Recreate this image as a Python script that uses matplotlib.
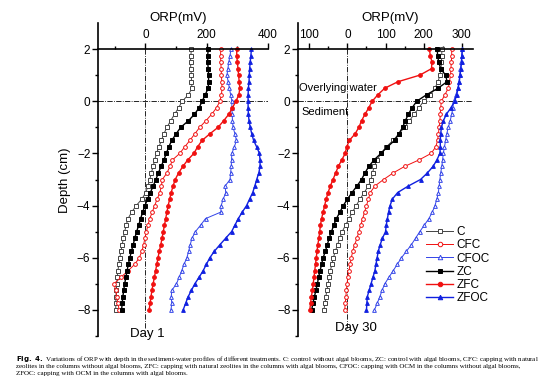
import matplotlib
matplotlib.use('Agg')
import matplotlib.pyplot as plt
import numpy as np

plt.rcParams['font.family'] = ['Liberation Sans', 'DejaVu Sans']

# depth of each sampling point (cm), 2 cm above interface down to -8 cm
depth = [2.0, 1.75, 1.5, 1.25, 1.0, 0.75, 0.5, 0.25, 0.0, -0.25, -0.5, -0.75, -1.0,
         -1.25, -1.5, -1.75, -2.0, -2.25, -2.5, -2.75, -3.0, -3.25, -3.5, -3.75, -4.0,
         -4.25, -4.5, -4.75, -5.0, -5.25, -5.5, -5.75, -6.0, -6.25, -6.5, -6.75, -7.0,
         -7.25, -7.5, -7.75, -8.0]

# Day 1 ORP (mV)
d1_C = [150, 148, 147, 148, 150, 150, 152, 140, 120, 108, 95, 82, 70, 60, 52, 44, 36,
        30, 25, 19, 14, 8, 1, -12, -30, -45, -57, -63, -68, -72, -76, -80, -84, -87,
        -90, -92, -94, -95, -96, -97, -97]
d1_CFC = [246, 245, 246, 247, 248, 249, 250, 248, 243, 232, 216, 197, 177, 161, 145,
          128, 112, 88, 80, 70, 55, 52, 47, 38, 30, 22, 14, 8, 3, -2, -6, -12, -20,
          -35, -57, -80, -103, -97, -94, -90, -86]
d1_CFOC = [279, 276, 272, 269, 266, 270, 274, 278, 282, 282, 283, 284, 286, 292, 297,
           290, 282, 281, 280, 278, 276, 260, 262, 254, 247, 246, 196, 180, 163, 152,
           146, 141, 135, 126, 118, 110, 101, 86, 84, 86, 83]
d1_ZC = [205, 203, 203, 205, 206, 206, 205, 195, 185, 175, 160, 140, 115, 100, 86, 76,
         68, 60, 51, 42, 34, 25, 16, 7, -2, -9, -16, -22, -29, -35, -40, -46, -51, -56,
         -60, -64, -68, -71, -74, -76, -78]
d1_ZFC = [298, 298, 300, 302, 304, 306, 308, 305, 295, 284, 272, 255, 237, 210, 185,
          170, 158, 138, 122, 108, 97, 90, 84, 79, 74, 70, 66, 62, 58, 54, 50, 45, 41,
          37, 33, 29, 25, 21, 18, 15, 12]
d1_ZFOC = [346, 344, 342, 340, 339, 338, 336, 335, 335, 335, 336, 338, 342, 347, 353,
           363, 372, 374, 374, 370, 363, 357, 350, 340, 330, 316, 303, 292, 281, 262,
           243, 225, 210, 199, 188, 175, 161, 150, 139, 131, 123]

# Day 30 ORP (mV)
d30_C = [248, 248, 247, 246, 243, 238, 230, 218, 200, 188, 175, 163, 150, 135, 120,
         102, 88, 78, 70, 66, 62, 55, 44, 33, 23, 13, 4, -5, -14, -20, -26, -32, -37,
         -41, -45, -48, -51, -54, -57, -59, -62]
d30_CFC = [274, 274, 273, 272, 271, 268, 265, 256, 247, 245, 244, 243, 241, 239, 237,
           232, 220, 188, 150, 120, 95, 72, 60, 55, 50, 45, 40, 35, 30, 25, 19, 14, 10,
           7, 4, 1, -1, -3, -4, -6, -7]
d30_CFOC = [302, 300, 299, 297, 295, 293, 290, 285, 279, 277, 274, 270, 265, 261, 258,
            255, 252, 250, 248, 245, 243, 241, 239, 235, 230, 223, 214, 202, 190, 179,
            168, 155, 142, 131, 120, 109, 98, 91, 85, 78, 71]
d30_ZC = [236, 237, 240, 245, 258, 262, 238, 208, 182, 170, 160, 152, 145, 135, 124,
          105, 88, 70, 56, 46, 37, 25, 12, 0, -11, -20, -29, -36, -42, -48, -53, -58,
          -64, -68, -72, -76, -79, -83, -87, -91, -94]
d30_ZFC = [215, 218, 222, 221, 190, 133, 98, 80, 65, 56, 46, 37, 30, 20, 5, -2, -6,
           -15, -24, -31, -38, -45, -51, -56, -60, -64, -68, -71, -73, -75, -78, -80,
           -82, -84, -86, -88, -90, -92, -95, -97, -99]
d30_ZFOC = [302, 301, 300, 298, 296, 294, 291, 287, 282, 272, 260, 252, 247, 245, 244,
            244, 243, 235, 225, 210, 192, 160, 132, 118, 112, 108, 105, 102, 100, 92, 86,
            81, 78, 75, 72, 67, 62, 57, 52, 51, 50]

labels = ['C', 'CFC', 'CFOC', 'ZC', 'ZFC', 'ZFOC']
day1_ticks = [0, 200, 400]
day30_ticks = [-100, 0, 100, 200, 300]
day30_ticklabels = ['100', '0', '100', '200', '300']  # minus sign is hidden under the axis in the original
caption = [
    r"$\mathbf{Fig.\ 4.}$ Variations of ORP with depth in the sediment-water profiles of different treatments. "
    "C: control without algal blooms, ZC: control with algal blooms, CFC: capping with natural",
    "zeolites in the columns without algal blooms, ZFC: capping with natural zeolites in the columns "
    "with algal blooms, CFOC: capping with OCM in the columns without algal blooms,",
    "ZFOC: capping with OCM in the columns with algal blooms.",
]

RED = '#f01010'
BLUE = '#1020e0'
styles = {
    'C':    dict(color='#444444', marker='s', mfc='white', lw=0.7),
    'CFC':  dict(color=RED, marker='o', mfc='white', lw=0.7),
    'CFOC': dict(color='#3344e8', marker='^', mfc='white', lw=0.7),
    'ZC':   dict(color='black', marker='s', mfc='black', lw=1.0),
    'ZFC':  dict(color=RED, marker='o', mfc=RED, lw=1.0),
    'ZFOC': dict(color=BLUE, marker='^', mfc=BLUE, lw=1.0),
}


def setup_axis(ax, xlim, major, minor):
    ax.set_xlim(*xlim)
    ax.set_ylim(-9, 3)
    ax.spines['right'].set_visible(False)
    ax.spines['bottom'].set_visible(False)
    ax.spines['top'].set_position(('data', 2))
    ax.spines['top'].set_linewidth(1.2)
    ax.spines['left'].set_linewidth(1.2)
    ax.xaxis.tick_top()
    ax.set_xticks(major)
    ax.set_xticks(minor, minor=True)
    ax.set_yticks([-8, -6, -4, -2, 0, 2])
    ax.set_yticks([-9, -7, -5, -3, -1, 1], minor=True)
    ax.tick_params(which='major', direction='out', length=4, width=1, labelsize=8.5, pad=1.5)
    ax.tick_params(which='minor', direction='out', length=2.5, width=1)
    ax.axhline(0, color='black', ls='-.', lw=0.6)
    ax.vlines(0, -8.7, 2, color='black', linestyles='-.', lw=0.6)
    ax.patch.set_alpha(0)


fig = plt.figure(figsize=(5.54, 3.86), dpi=100)
ax1 = fig.add_axes([98 / 554, 1 - 336 / 386, 170 / 554, 313 / 386])
ax2 = fig.add_axes([298 / 554, 1 - 336 / 386, 175 / 554, 313 / 386])

setup_axis(ax1, (-155, 400), day1_ticks, [-100, 100, 300])
setup_axis(ax2, (-130, 330), day30_ticks, [-50, 50, 150, 250])
ax2.set_xticklabels(day30_ticklabels)

day1 = [d1_C, d1_CFC, d1_CFOC, d1_ZC, d1_ZFC, d1_ZFOC]
day30 = [d30_C, d30_CFC, d30_CFOC, d30_ZC, d30_ZFC, d30_ZFOC]
for name, v1, v30 in zip(labels, day1, day30):
    st = styles[name]
    kw = dict(color=st['color'], marker=st['marker'], mfc=st['mfc'], mec=st['color'],
              ms=2.7, mew=0.7, lw=st['lw'], label=name)
    ax1.plot(v1, depth, **kw)
    ax2.plot(v30, depth, **kw)

ax2.legend(loc='upper left', bbox_to_anchor=(426 / 554, 1 - 226 / 386),
           bbox_transform=fig.transFigure, frameon=False, fontsize=8.5,
           handlelength=2.3, handletextpad=0.3, labelspacing=0.11,
           borderpad=0, borderaxespad=0, markerscale=1.2)

ax2.text(-127, 0.5, 'Overlying water', fontsize=8, va='center', ha='left')
ax2.text(-122, -0.4, 'Sediment', fontsize=8, va='center', ha='left')

fig.text(178 / 554, 1 - 18 / 386, 'ORP(mV)', fontsize=9.5, ha='center', va='center')
fig.text(390 / 554, 1 - 18 / 386, 'ORP(mV)', fontsize=9.5, ha='center', va='center')
fig.text(147 / 554, 1 - 334 / 386, 'Day 1', fontsize=9.5, ha='center', va='center')
fig.text(356 / 554, 1 - 328 / 386, 'Day 30', fontsize=9.5, ha='center', va='center')
fig.text(65 / 554, 1 - 180 / 386, 'Depth (cm)', fontsize=9.5, rotation=90,
         ha='center', va='center')

for i, line in enumerate(caption):
    fig.text(16 / 554, 1 - (359 + 7.5 * i) / 386, line, fontsize=5.0,
             family='Liberation Serif', ha='left', va='center')

fig.savefig('out.png', dpi=100)
